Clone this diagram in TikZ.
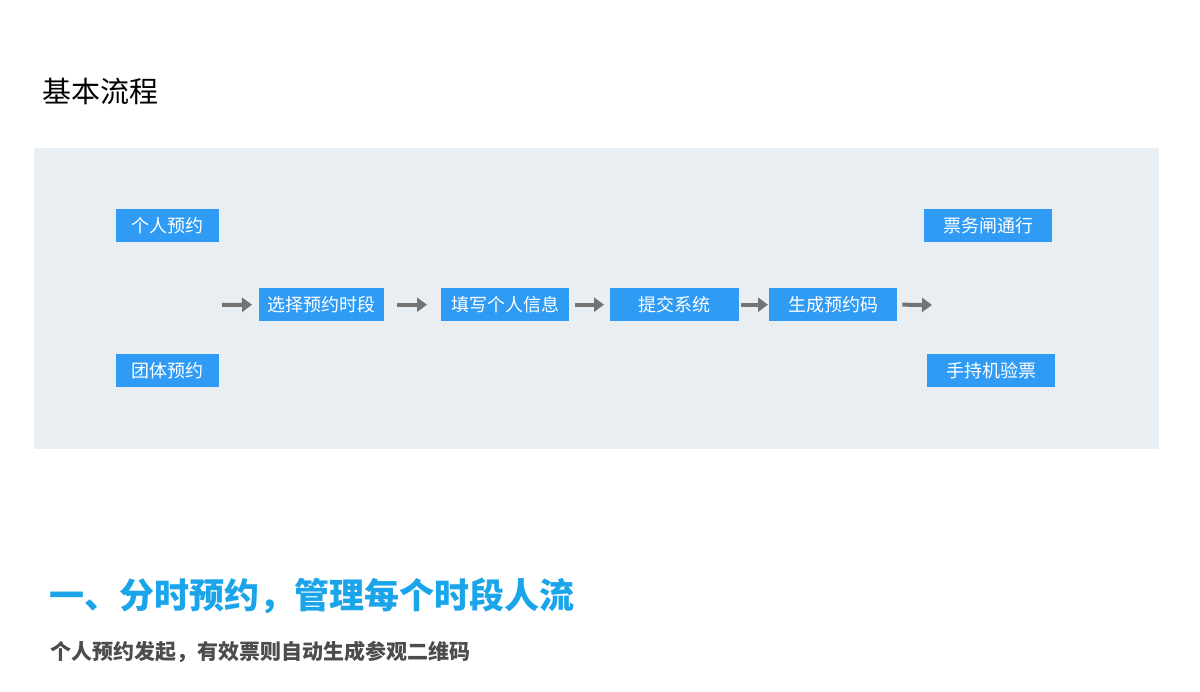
\documentclass[tikz,border=0pt]{standalone}
\usepackage{fontspec}
\newfontfamily\cjk{Noto Sans CJK SC}
\usetikzlibrary{arrows.meta}
\definecolor{boxc}{HTML}{2F9BF5}
\definecolor{bgc}{HTML}{E9EEF2}
\definecolor{arrc}{HTML}{737373}
\definecolor{headc}{HTML}{1AA5EA}
\begin{document}
\begin{tikzpicture}[x=1pt,y=-1pt,
  box/.style={fill=boxc,text=white,font=\cjk\fontsize{18}{20}\selectfont,inner sep=0pt,anchor=north west},
  arr/.style={draw=arrc,line width=4pt,-{Triangle[length=10pt,width=14pt]}}]
\useasboundingbox (0,0) rectangle (1200,692);
\fill[white] (0,0) rectangle (1200,692);
\fill[bgc] (34,148) rectangle (1159,449);
\node[anchor=west,font=\cjk\fontsize{29}{32}\selectfont] (title) at (39,91) {基本流程};
\node[box,minimum width=103pt,minimum height=33pt] (a1) at (116,209) {个人预约};
\node[box,minimum width=103pt,minimum height=33pt] (a2) at (116,354) {团体预约};
\node[box,minimum width=125pt,minimum height=33pt] (b) at (259,288) {选择预约时段};
\node[box,minimum width=128pt,minimum height=33pt] (c) at (441,288) {填写个人信息};
\node[box,minimum width=129pt,minimum height=33pt] (d) at (610,288) {提交系统};
\node[box,minimum width=128pt,minimum height=33pt] (e) at (769,288) {生成预约码};
\node[box,minimum width=128pt,minimum height=33pt] (f1) at (924,209) {票务闸通行};
\node[box,minimum width=128pt,minimum height=33pt] (f2) at (927,354) {手持机验票};
\coordinate (s) at (222,305);
\coordinate (t) at (932,305);
\draw[arr] (s) -- ([xshift=-7pt]b.west);
\draw[arr] ([xshift=13pt]b.east) -- ([xshift=-14pt]c.west);
\draw[arr] ([xshift=6pt]c.east) -- ([xshift=-6pt]d.west);
\draw[arr] ([xshift=2pt]d.east) -- ([xshift=-1pt]e.west);
\draw[arr] ([xshift=5pt]e.east) -- (t);
\node[anchor=west,text=headc,font=\cjk\bfseries\fontsize{35}{40}\selectfont] (h) at (46,596) {一、分时预约，管理每个时段人流};
\node[anchor=west,text=black!70,font=\cjk\bfseries\fontsize{21}{24}\selectfont] (sub) at (47,652) {个人预约发起，有效票则自动生成参观二维码};
\end{tikzpicture}
\end{document}
